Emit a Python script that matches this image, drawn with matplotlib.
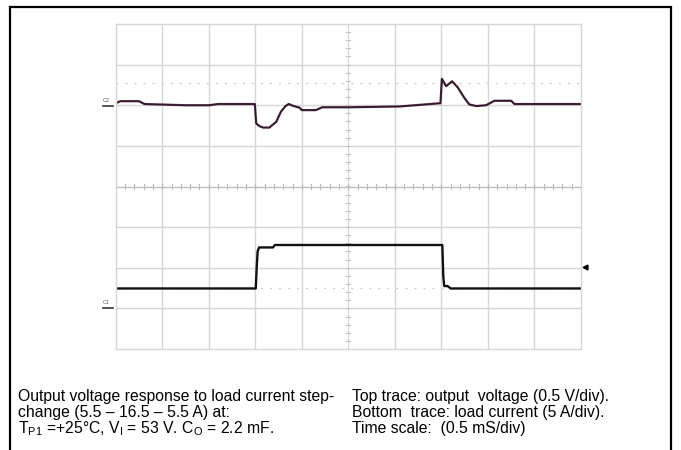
import matplotlib
matplotlib.use("Agg")
import matplotlib.pyplot as plt
from matplotlib.lines import Line2D
import numpy as np

plt.rcParams['font.family'] = ['Liberation Sans', 'DejaVu Sans']
plt.rcParams['mathtext.default'] = 'regular'

# time in divisions (10 div = 5 mS), levels in divisions from screen centre
top_t = [0.0, 0.1, 0.5, 0.62, 1.5, 2.0, 2.2, 2.99, 3.02, 3.1, 3.17, 3.3, 3.45, 3.55,
         3.65, 3.72, 3.8, 3.95, 4.0, 4.3, 4.44, 5.0, 6.1, 6.98, 7.01, 7.1, 7.23,
         7.35, 7.5, 7.6, 7.75, 7.96, 8.14, 8.5, 8.57, 10.0]
top_v = [2.05, 2.10, 2.10, 2.03, 2.00, 2.00, 2.03, 2.03, 1.55, 1.48, 1.45, 1.45, 1.59, 1.84,
         1.98, 2.03, 1.99, 1.94, 1.88, 1.88, 1.95, 1.95, 1.97, 2.05, 2.65, 2.47, 2.59,
         2.44, 2.17, 2.02, 1.98, 2.00, 2.11, 2.11, 2.03, 2.03]

bot_t = [0.0, 3.01, 3.03, 3.05, 3.08, 3.38, 3.42, 7.02, 7.04, 7.06, 7.13, 7.2, 10.0]
bot_v = [-2.51, -2.51, -2.0, -1.6, -1.50, -1.50, -1.44, -1.44, -2.2, -2.45, -2.45, -2.51, -2.51]

cursor_levels = [2.54, -2.49]
trig_level = -1.98

line1 = ["Output voltage response to load current step-",
         "change (5.5 \u2013 16.5 \u2013 5.5 A) at:",
         "T$_{P1}$ =+25\u00b0C, V$_{I}$ = 53 V. C$_{O}$ = 2.2 mF."]
line2 = ["Top trace: output  voltage (0.5 V/div).",
         "Bottom  trace: load current (5 A/div).",
         "Time scale:  (0.5 mS/div)"]

W, H = 681, 450
fig = plt.figure(figsize=(W / 100, H / 100), dpi=100)
fig.patch.set_facecolor('white')

ax = fig.add_axes([115.7 / W, 1 - 349 / H, 465.3 / W, 325 / H])
ax.set_xlim(0, 10)
ax.set_ylim(-4, 4)
grid_c = '#d6d6d6'
for x in range(1, 10):
    if x != 5:
        ax.axvline(x, color=grid_c, lw=1)
for y in range(-3, 4):
    if y != 0:
        ax.axhline(y, color=grid_c, lw=1)
ax.axvline(5, color='#d2d2d2', lw=0.8)
ax.axhline(0, color='#bdbdbd', lw=1)
# minor ticks on the centre axes
for x in np.arange(0, 10.01, 0.2):
    ax.plot([x, x], [-0.07, 0.07], color='#b8b8b8', lw=0.8)
for y in np.arange(-4, 4.01, 0.2):
    ax.plot([4.96, 5.04], [y, y], color='#c4c4c4', lw=0.8)
for lv in cursor_levels:
    ax.axhline(lv, color='#d0d0d0', lw=1, ls=(0, (1.5, 5)))
for s in ax.spines.values():
    s.set_color(grid_c)
    s.set_linewidth(1)
ax.set_xticks([])
ax.set_yticks([])

ax.plot(top_t, top_v, color='#4a2342', lw=1.6, solid_joinstyle='round')
ax.plot(top_t, top_v, color='#111111', lw=0.6, alpha=0.6)
ax.plot(bot_t, bot_v, color='#111111', lw=1.7)

# channel markers and trigger marker
ax.text(-0.28, 2.12, 'C2', fontsize=4, color='#555555', ha='left', va='center', clip_on=False)
ax.plot([-0.28, -0.05], [1.98, 1.98], color='#333333', lw=1.2, clip_on=False)
ax.text(-0.28, -2.85, 'C1', fontsize=4, color='#555555', ha='left', va='center', clip_on=False)
ax.plot([-0.28, -0.05], [-3.0, -3.0], color='#333333', lw=1.2, clip_on=False)
ax.plot([10.09], [trig_level], marker='<', color='black', ms=3.5, clip_on=False)

# outer frame (open at the bottom)
fx0, fx1, fy = 10 / W, 671 / W, 1 - 6.5 / H
fig.add_artist(Line2D([fx0, fx0, fx1, fx1], [0, fy, fy, 0], color='black', lw=1.6,
                      solid_joinstyle='miter'))

ys = [397, 413, 429]
for i in range(3):
    fig.text(18 / W, 1 - ys[i] / H, line1[i], fontsize=11.3, ha='left', va='center')
    fig.text(352 / W, 1 - ys[i] / H, line2[i], fontsize=11.3, ha='left', va='center')

fig.savefig('out.png', dpi=100, facecolor='white')
